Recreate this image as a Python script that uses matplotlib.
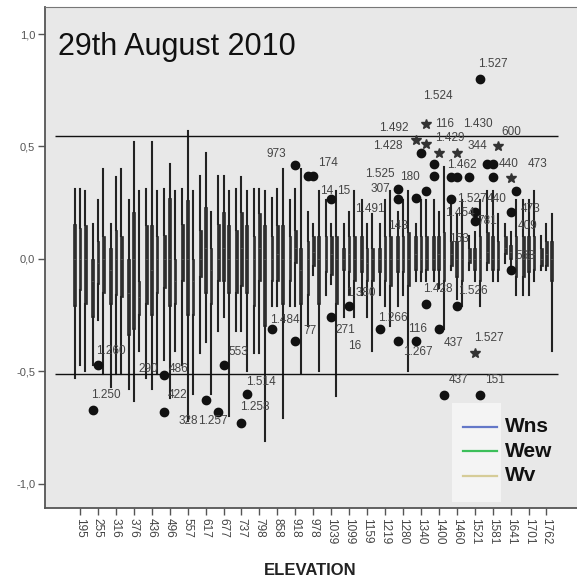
import numpy as np
import matplotlib.pyplot as plt
from matplotlib.patches import Rectangle
from matplotlib.lines import Line2D

plt.rcParams['font.family'] = ['Liberation Sans', 'DejaVu Sans']

# data: elevation classes and box stats (lo, q1, median, q3, hi) per series
elev = ['195', '255', '316', '376', '436', '496', '557', '617', '677', '737',
        '798', '858', '918', '978', '1039', '1099', '1159', '1219', '1280',
        '1340', '1400', '1460', '1521', '1581', '1641', '1701', '1762']

wns = [(-0.53, -0.21, 0.00, 0.157, 0.31), (-0.47, -0.26, -0.10, 0.00, 0.154),
       (-0.57, -0.20, -0.05, 0.05, 0.157), (-0.58, -0.34, -0.15, 0.00, 0.26),
       (-0.53, -0.20, 0.00, 0.15, 0.31), (-0.45, -0.13, 0.00, 0.107, 0.31),
       (-0.47, -0.10, 0.00, 0.157, 0.31), (-0.42, -0.08, 0.00, 0.13, 0.37),
       (-0.32, -0.10, 0.00, 0.157, 0.37), (-0.32, -0.15, 0.00, 0.13, 0.31),
       (-0.42, -0.21, 0.00, 0.10, 0.31), (-0.21, -0.10, 0.00, 0.10, 0.27),
       (-0.21, -0.10, 0.00, 0.10, 0.26), (-0.30, -0.16, 0.00, 0.08, 0.21),
       (-0.16, -0.06, 0.00, 0.10, 0.26), (-0.26, -0.05, 0.00, 0.05, 0.154),
       (-0.16, -0.06, 0.00, 0.10, 0.26), (-0.16, -0.06, 0.00, 0.05, 0.154),
       (-0.21, -0.06, 0.00, 0.10, 0.21), (-0.10, -0.05, 0.02, 0.10, 0.154),
       (-0.10, -0.05, 0.00, 0.10, 0.26), (-0.05, -0.03, 0.02, 0.08, 0.26),
       (-0.05, -0.02, 0.00, 0.05, 0.10), (-0.05, -0.02, 0.03, 0.12, 0.30),
       (-0.02, 0.02, 0.05, 0.10, 0.154), (-0.16, -0.08, 0.00, 0.10, 0.26),
       (-0.05, -0.03, 0.00, 0.05, 0.10)]

wew = [(-0.47, -0.14, 0.00, 0.136, 0.31), (-0.27, -0.11, -0.02, 0.08, 0.26),
       (-0.51, -0.16, 0.00, 0.13, 0.366), (-0.63, -0.31, 0.00, 0.21, 0.52),
       (-0.58, -0.25, -0.05, 0.15, 0.52), (-0.62, -0.21, 0.00, 0.27, 0.42),
       (-0.72, -0.25, 0.00, 0.26, 0.57), (-0.37, -0.15, 0.05, 0.23, 0.47),
       (-0.26, -0.10, 0.05, 0.21, 0.37), (-0.32, -0.12, 0.05, 0.21, 0.366),
       (-0.42, -0.10, 0.05, 0.206, 0.31), (-0.21, -0.10, 0.02, 0.15, 0.31),
       (-0.21, -0.02, 0.05, 0.13, 0.31), (-0.07, -0.03, 0.03, 0.10, 0.154),
       (-0.11, -0.07, 0.02, 0.10, 0.154), (-0.16, -0.06, 0.02, 0.10, 0.21),
       (-0.26, -0.10, -0.02, 0.05, 0.154), (-0.21, -0.10, 0.00, 0.10, 0.26),
       (-0.16, -0.06, 0.00, 0.10, 0.26), (-0.10, -0.06, 0.00, 0.10, 0.26),
       (-0.13, -0.05, 0.02, 0.10, 0.21), (-0.18, -0.08, 0.00, 0.08, 0.20),
       (-0.10, -0.05, 0.00, 0.05, 0.12), (-0.10, -0.05, 0.00, 0.10, 0.30),
       (-0.03, 0.00, 0.03, 0.06, 0.12), (-0.16, -0.06, 0.00, 0.10, 0.26),
       (-0.05, -0.03, 0.02, 0.08, 0.154)]

wv = [(-0.50, -0.20, 0.00, 0.15, 0.30), (-0.51, -0.15, 0.00, 0.10, 0.40),
      (-0.51, -0.17, 0.00, 0.10, 0.40), (-0.41, -0.25, -0.17, -0.10, 0.30),
      (-0.51, -0.15, 0.00, 0.10, 0.30), (-0.41, -0.20, -0.10, 0.00, 0.30),
      (-0.60, -0.25, -0.10, 0.00, 0.30), (-0.60, -0.20, -0.05, 0.05, 0.21),
      (-0.70, -0.15, 0.00, 0.15, 0.30), (-0.50, -0.15, 0.00, 0.15, 0.30),
      (-0.81, -0.30, 0.00, 0.15, 0.30), (-0.705, -0.20, 0.00, 0.15, 0.40),
      (-0.505, -0.20, -0.05, 0.05, 0.40), (-0.50, -0.20, 0.00, 0.10, 0.30),
      (-0.61, -0.20, 0.00, 0.10, 0.30), (-0.26, -0.10, 0.00, 0.10, 0.30),
      (-0.41, -0.10, 0.00, 0.05, 0.20), (-0.30, -0.12, 0.00, 0.10, 0.30),
      (-0.50, -0.12, 0.00, 0.12, 0.30), (-0.10, -0.05, 0.00, 0.10, 0.26),
      (-0.31, -0.10, 0.00, 0.12, 0.41), (-0.21, -0.10, 0.00, 0.10, 0.26),
      (-0.21, -0.10, 0.00, 0.10, 0.26), (-0.10, -0.05, 0.00, 0.08, 0.20),
      (-0.16, -0.08, 0.00, 0.10, 0.26), (-0.10, -0.05, 0.02, 0.10, 0.30),
      (-0.41, -0.10, 0.00, 0.08, 0.20)]

series = [wns, wew, wv]
series_names = ['Wns', 'Wew', 'Wv']
series_colors = ['#6478c8', '#3cbf5a', '#d6cc98']

# outliers: category, series index, value, kind ('o' outlier, 'x' extreme, '' label only), case label
out_cat = [1, 1, 5, 5, 5, 7, 8, 8, 9, 9, 11, 12, 12, 13, 13, 14, 14, 14, 14, 15,
           16, 17, 18, 18, 18, 18, 19, 19, 19, 19, 19, 19, 19, 20, 20, 20, 21, 20,
           20, 19, 19, 20, 21, 22, 22, 22, 21, 21, 22, 21, 22, 22, 22, 21, 23, 23,
           23, 23, 23, 24, 24, 24, 24, 24]
out_ser = [1, 0, 0, 0, 0, 1, 0, 1, 2, 1, 0, 1, 1, 0, 1, 1, 1, 1, 1, 1,
           0, 0, 0, 0, 0, 1, 0, 2, 1, 0, 2, 2, 2, 0, 0, 1, 1, 1,
           1, 2, 0, 2, 1, 2, 1, 2, 0, 1, 0, 0, 1, 1, 1, 1, 0, 1,
           2, 2, 1, 1, 2, 1, 2, 1]
out_val = [-0.47, -0.67, -0.515, -0.515, -0.68, -0.625, -0.68, -0.47, -0.60, -0.73,
           -0.31, 0.416, -0.365, 0.37, 0.37, 0.265, 0.265, -0.26, -0.26, -0.21,
           0.22, -0.31, 0.31, 0.265, -0.365, 0.147, 0.27, 0.30, 0.47, 0.53, 0.51,
           0.60, 0.60, 0.42, 0.37, 0.47, 0.47, -0.31, -0.31, -0.20, -0.365,
           -0.605, -0.21, -0.605, -0.42, 0.80, 0.365, 0.365, 0.365, 0.265, 0.21,
           0.21, 0.17, 0.09, 0.42, 0.42, 0.50, 0.50, 0.365, 0.36, 0.30, 0.21,
           0.147, -0.05]
out_kind = ['o', 'o', 'o', '', 'o', 'o', 'o', 'o', 'o', 'o', 'o', 'o', 'o', 'o', 'o',
            'o', '', 'o', '', 'o', '', 'o', 'o', 'o', 'o', '', 'o', 'o', 'o', 'x',
            'x', 'x', '', 'o', 'o', 'x', 'x', 'o', '', 'o', 'o', 'o', 'o', 'o', 'x',
            'o', 'o', 'o', 'o', 'o', 'o', '', 'o', '', 'o', 'o', 'x', '', 'o', 'x',
            'o', 'o', '', 'o']
out_lab = ['1.260', '1.250', '290', '486', '422', '328', '1.257', '553', '1.514',
           '1.258', '1.484', '973', '77', '', '174', '14', '15', '271', '16',
           '1.380', '1.491', '1.266', '307', '1.525', '1.267', '148', '180', '',
           '1.428', '1.492', '', '1.524', '116', '', '', '1.429', '', '116', '437',
           '1.428', '', '437', '1.526', '151', '1.527', '1.527', '', '', '1.462',
           '1.454', '1.527', '440', '781', '153', '344', '440', '1.430', '600', '',
           '', '473', '473', '409', '568']

# label offsets from the point, in pixels (dx to text left edge, dy up)
lab_off = [(-2, 14), (-2, 15), (-26, 6), (4, 6), (3, 17), (-27, -21), (-20, -9),
           (5, 13), (-1, 12), (-1, 16), (-2, 9), (-29, 11), (8, 10), (0, 0),
           (5, 13), (-11, 8), (6, 8), (4, -13), (17, -29), (-3, 13), (-7, 0),
           (-2, 11), (-27, 0), (-33, 25), (5, -11), (-15, 0), (-16, 21), (0, 0),
           (-48, 7), (-37, 12), (0, 0), (-3, 28), (9, 0), (0, 0), (0, 0),
           (-4, 15), (0, 0), (-31, 0), (5, -14), (-3, 15), (0, 0), (5, 15),
           (1, 15), (5, 15), (-1, 15), (-2, 15), (0, 0), (0, 0), (-22, 12),
           (-6, -14), (-18, 13), (12, 13), (3, 0), (-8, 0), (-20, 18), (6, 0),
           (-35, 22), (3, 14), (0, 0), (0, 0), (12, 27), (10, 3), (2, 0), (5, 14)]

ref_lines = [0.545, -0.51]

# layout
fig = plt.figure(figsize=(5.77, 5.85), dpi=100)
ax = fig.add_axes([0.078, 0.1316, 0.922, 0.8564])
ax.set_facecolor('#e8e8e8')

offsets = [-0.295, 0.0, 0.295]
ink = '#222222'
for s, data in enumerate(series):
    stats = [dict(whislo=d[0], q1=d[1], med=d[2], q3=d[3], whishi=d[4], fliers=[])
             for d in data]
    pos = np.arange(len(elev)) + offsets[s]
    ax.bxp(stats, positions=pos, widths=0.15, showcaps=False, showfliers=False,
           patch_artist=True, manage_ticks=False,
           boxprops=dict(facecolor='#2e2e2e', edgecolor='#2e2e2e', linewidth=0.5),
           whiskerprops=dict(color=ink, linewidth=1.5),
           medianprops=dict(color='#505050', linewidth=0.7))

for yv in ref_lines:
    ax.hlines(yv, -1.39, 26.63, color='#111111', linewidth=1.0, zorder=3)

for c, s, v, k, lab, (dx, dy) in zip(out_cat, out_ser, out_val, out_kind, out_lab, lab_off):
    x = c + offsets[s]
    if k == 'o':
        ax.plot(x, v, 'o', color='#111111', markersize=6, zorder=5)
    elif k == 'x':
        ax.plot(x, v, '*', color='#333333', markersize=7, zorder=5)
    if lab:
        ax.annotate(lab, (x, v), xytext=(dx * 0.72, dy * 0.72),
                    textcoords='offset points', ha='left', va='center',
                    fontsize=8.5, color='#444444', zorder=6)

ax.set_xlim(-1.95, 27.7)
ax.set_ylim(-1.107, 1.12)
ax.set_xticks(np.arange(len(elev)))
ax.set_xticklabels(elev, rotation=-90, fontsize=8.5, color='#444444')
ax.set_yticks([-1.0, -0.5, 0.0, 0.5, 1.0])
ax.set_yticklabels(['-1,0', '-0,5', '0,0', '0,5', '1,0'], fontsize=8, color='#555555')
ax.tick_params(axis='both', length=5, width=1, color='#555555', pad=2)

for sp in ['left', 'bottom']:
    ax.spines[sp].set_color('#555555')
    ax.spines[sp].set_linewidth(1.3)
ax.spines['top'].set_color('#777777')
ax.spines['right'].set_visible(False)

ax.text(0.024, 0.904, '29th August 2010', transform=ax.transAxes, fontsize=22,
        color='#111111', va='baseline', ha='left')

# legend drawn by hand, as in the source
ax.add_patch(Rectangle((0.765, 0.012), 0.092, 0.198, transform=ax.transAxes,
                       facecolor='#f4f4f4', edgecolor='none', zorder=4))
for i, (nm, col) in enumerate(zip(series_names, series_colors)):
    yy = 0.162 - i * 0.049
    ax.add_line(Line2D([0.786, 0.85], [yy, yy], transform=ax.transAxes,
                       color=col, linewidth=1.6, zorder=5))
    ax.text(0.865, yy, nm, transform=ax.transAxes, fontsize=15, fontweight='bold',
            va='center', ha='left', color='#111111', zorder=5)

fig.text(0.537, 0.024, 'ELEVATION', ha='center', va='center', fontsize=12,
         fontweight='bold', color='#222222')

fig.savefig('out.png', dpi=100)
